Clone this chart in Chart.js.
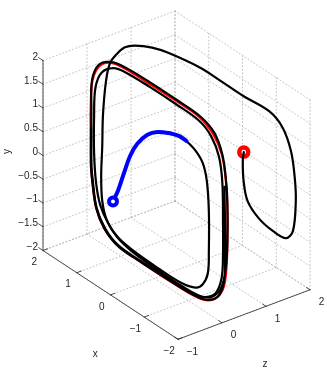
<!DOCTYPE html>
<html>
<head>
<meta charset="utf-8">
<script src="https://cdn.jsdelivr.net/npm/chart.js@4.4.1/dist/chart.umd.min.js"></script>
<style>
  html, body { margin: 0; padding: 0; background: #fff; }
  #wrap { width: 327px; height: 372px; }
</style>
</head>
<body>
<div id="wrap"><canvas id="chart" width="327" height="372"></canvas></div>
<script>
// tick values on the three axes
const xTicks = [2, 1, 0, -1, -2];
const yTicks = [-2, -1.5, -1, -0.5, 0, 0.5, 1, 1.5, 2];
const zTicks = [-1, 0, 1, 2];

// limit cycle (red), points are [x, y, z]
const limitCycle = [
  [2.02, -0.6, 0.1], [2.02, 0.0, 0.1], [2.02, 0.6, 0.1], [1.97, 1.2, 0.1], [1.77, 1.6, 0.1],
  [1.42, 1.84, 0.1], [1.0, 1.91, 0.1], [0.25, 1.93, 0.1], [-0.5, 1.94, 0.1], [-1.2, 1.92, 0.1],
  [-1.62, 1.74, 0.1], [-1.87, 1.43, 0.1], [-1.99, 0.9, 0.1], [-2.03, 0.3, 0.1], [-2.03, -0.3, 0.1],
  [-2.0, -0.9, 0.1], [-1.92, -1.32, 0.1], [-1.72, -1.63, 0.1], [-1.4, -1.84, 0.1], [-1.0, -1.92, 0.1],
  [-0.25, -1.94, 0.1], [0.5, -1.94, 0.1], [1.2, -1.92, 0.1], [1.62, -1.74, 0.1], [1.86, -1.42, 0.1],
  [1.98, -0.86, 0.1], [2.02, -0.6, 0.1]
];

// trajectory starting at the red marker
const trajRed = [
  [-0.69, 0.46, 1.5], [-0.66, 0.26, 1.5], [-0.62, -0.2, 1.55], [-0.67, -0.61, 1.6], [-0.94, -0.87, 1.65],
  [-1.3, -0.99, 1.7], [-1.68, -0.96, 1.7], [-1.82, -0.76, 1.75], [-1.84, -0.14, 1.8], [-1.81, 0.33, 1.8],
  [-1.7, 0.84, 1.8], [-1.52, 1.27, 1.75], [-1.19, 1.48, 1.7], [-0.56, 1.54, 1.6], [0.02, 1.64, 1.5],
  [0.47, 1.73, 1.4], [1.16, 1.79, 1.2], [1.44, 1.82, 1.05], [1.75, 1.77, 0.9], [1.92, 1.69, 0.8],
  [1.89, 1.64, 0.6], [1.84, 1.53, 0.4], [1.76, 1.26, 0.25], [1.72, 0.61, 0.15], [1.68, -0.07, 0.1],
  [1.71, -0.67, 0.1], [1.68, -1.18, 0.1], [1.55, -1.52, 0.1], [1.25, -1.74, 0.1], [0.8, -1.84, 0.1],
  [0.1, -1.87, 0.1], [-0.6, -1.88, 0.1], [-1.2, -1.84, 0.1], [-1.58, -1.68, 0.1], [-1.84, -1.38, 0.1],
  [-1.98, -0.9, 0.1], [-2.03, -0.3, 0.1], [-2.03, 0.5, 0.1], [-1.99, 0.95, 0.1], [-1.88, 1.45, 0.1],
  [-1.64, 1.8, 0.1], [-1.22, 1.95, 0.1], [-0.5, 1.97, 0.1], [0.25, 1.97, 0.1], [1.0, 1.94, 0.1],
  [1.42, 1.86, 0.1], [1.78, 1.63, 0.1], [1.98, 1.22, 0.1], [2.0, 0.6, 0.1], [2.0, 0.0, 0.1],
  [2.0, -0.6, 0.1], [1.96, -0.88, 0.1], [1.85, -1.4, 0.1], [1.6, -1.72, 0.1], [1.2, -1.9, 0.1],
  [0.5, -1.92, 0.1], [-0.25, -1.92, 0.1], [-1.0, -1.9, 0.1], [-1.4, -1.83, 0.1], [-1.75, -1.6, 0.1],
  [-1.93, -1.2, 0.1], [-1.96, -0.6, 0.1], [-1.96, 0.0, 0.1], [-1.94, 0.8, 0.1]
];

// trajectory starting at the blue marker: blue head, then black tail
const blueHead = [
  [1.36, -1.05, 0.1], [1.21, -0.75, 0.1], [1.03, -0.29, 0.1], [0.85, 0.15, 0.1], [0.64, 0.5, 0.1],
  [0.34, 0.83, 0.1], [0.04, 1.03, 0.1], [-0.29, 1.16, 0.1], [-0.59, 1.24, 0.1], [-0.82, 1.24, 0.1]
];
const blueTail = [
  [-0.82, 1.24, 0.1], [-1.09, 1.16, 0.1], [-1.3, 1.0, 0.1], [-1.42, 0.68, 0.1], [-1.48, 0.07, 0.1],
  [-1.48, -0.77, 0.1], [-1.45, -1.25, 0.1], [-1.3, -1.55, 0.1], [-1.09, -1.72, 0.1], [-0.64, -1.82, 0.1],
  [0.0, -1.83, 0.1], [0.7, -1.81, 0.1], [1.2, -1.74, 0.1], [1.5, -1.58, 0.1], [1.74, -1.3, 0.1],
  [1.86, -0.9, 0.1], [1.92, -0.3, 0.1], [1.92, 0.5, 0.1], [1.88, 1.1, 0.1], [1.7, 1.5, 0.1],
  [1.35, 1.76, 0.1], [1.0, 1.84, 0.1], [0.25, 1.87, 0.1], [-0.5, 1.87, 0.1], [-1.2, 1.84, 0.1],
  [-1.55, 1.68, 0.1], [-1.78, 1.36, 0.1], [-1.88, 0.86, 0.1], [-1.9, 0.0, 0.1], [-1.9, -0.6, 0.1],
  [-1.86, -1.15, 0.1], [-1.68, -1.56, 0.1], [-1.35, -1.8, 0.1], [-1.0, -1.9, 0.1], [-0.25, -1.93, 0.1],
  [0.5, -1.94, 0.1], [1.2, -1.92, 0.1], [1.6, -1.75, 0.1], [1.85, -1.43, 0.1], [1.98, -0.88, 0.1],
  [2.01, -0.5, 0.1], [2.01, 0.2, 0.1]
];

// view: where corner (x=2, y=-2, z=-1) lands, and the step for one unit of x, y, z
const VIEW = { ox: 43, oy: 250.5, x: [-33.75, -22.2], y: [0, -47.5], z: [44, -16.5] };
function proj(p) {
  const dx = p[0] - 2, dy = p[1] + 2, dz = p[2] + 1;
  return {
    x: VIEW.ox + dx * VIEW.x[0] + dy * VIEW.y[0] + dz * VIEW.z[0],
    y: VIEW.oy + dx * VIEW.x[1] + dy * VIEW.y[1] + dz * VIEW.z[1]
  };
}
// list of segments -> points with gaps between them
function segs(list) {
  const out = [];
  list.forEach(s => { out.push(proj(s[0]), proj(s[1]), { x: null, y: null }); });
  return out;
}

const gridSegs = [];
zTicks.forEach(z => {
  gridSegs.push([[2, -2, z], [2, 2, z]]);        // wall x=2
  gridSegs.push([[2, -2, z], [-2, -2, z]]);      // floor
});
xTicks.forEach(x => {
  gridSegs.push([[x, -2, 2], [x, 2, 2]]);        // wall z=2
  gridSegs.push([[x, -2, -1], [x, -2, 2]]);      // floor
});
yTicks.forEach(y => {
  gridSegs.push([[2, y, -1], [2, y, 2]]);
  gridSegs.push([[2, y, 2], [-2, y, 2]]);
});

const axisSegs = [
  [[2, -2, -1], [-2, -2, -1]],
  [[-2, -2, -1], [-2, -2, 2]],
  [[2, -2, -1], [2, 2, -1]]
];
xTicks.forEach(x => axisSegs.push([[x, -2, -1], [x, -2, -0.9]]));
zTicks.forEach(z => axisSegs.push([[-2, -2, z], [-1.9, -2, z]]));
yTicks.forEach(y => axisSegs.push([[2, y, -1], [2.13, y, -1]]));

const line = (data, color, width, order, tension) => ({
  data, borderColor: color, borderWidth: width, showLine: true, fill: false,
  pointRadius: 0, tension: tension, order: order,
  borderCapStyle: 'round', borderJoinStyle: 'round'
});

const fmt = v => (v < 0 ? '\u2212' : '') + Math.abs(v);
const FONT = '10px "Liberation Sans", Arial, sans-serif';

const labels3d = {
  id: 'labels3d',
  afterDatasetsDraw(chart) {
    const ctx = chart.ctx, sx = chart.scales.x, sy = chart.scales.y;
    const at = p => { const q = proj(p); return [sx.getPixelForValue(q.x), sy.getPixelForValue(q.y)]; };
    ctx.save();
    ctx.font = FONT;
    ctx.fillStyle = '#262626';
    ctx.textBaseline = 'middle';
    ctx.textAlign = 'right';
    yTicks.forEach(y => { const [a, b] = at([2.15, y, -1]); ctx.fillText(fmt(y), a, b); });
    ctx.textAlign = 'center';
    xTicks.forEach(x => { const [a, b] = at([x, -2.18, -1.2]); ctx.fillText(fmt(x), a, b); });
    ctx.textAlign = 'left';
    zTicks.forEach(z => { const [a, b] = at([-2.26, -2.15, z]); ctx.fillText(fmt(z), a, b); });
    ctx.textAlign = 'center';
    let [a, b] = at([0.45, -3.45, -1]); ctx.fillText('x', a, b);
    [a, b] = at([-2, -3.21, 0.98]); ctx.fillText('z', a, b);
    [a, b] = at([3.06, -0.41, -1]);
    ctx.translate(a, b); ctx.rotate(-Math.PI / 2); ctx.fillText('y', 0, 0);
    ctx.restore();
  }
};

const gridSet = line(segs(gridSegs), '#b4b4b4', 0.8, 9, 0);
gridSet.borderDash = [1, 2.5];
gridSet.spanGaps = false;
const axisSet = line(segs(axisSegs), '#262626', 0.8, 8, 0);
axisSet.spanGaps = false;

new Chart(document.getElementById('chart'), {
  type: 'scatter',
  data: {
    datasets: [
      { data: [proj(blueHead[0])], pointRadius: 4, pointBorderWidth: 4, pointBorderColor: '#0000ff',
        pointBackgroundColor: '#ffffff', order: 1 },
      line(blueHead.map(proj), '#0000ff', 4, 2, 0.35),
      line(blueTail.map(proj), '#000000', 2.2, 3, 0.35),
      line(trajRed.map(proj), '#000000', 2.2, 4, 0.35),
      { data: [proj(trajRed[0])], pointRadius: 4.5, pointBorderWidth: 4.5, pointBorderColor: '#ff0000',
        pointBackgroundColor: '#ffffff', order: 5 },
      line(limitCycle.map(proj), '#ff0000', 2.2, 6, 0.35),
      axisSet,
      gridSet
    ]
  },
  options: {
    responsive: false,
    animation: false,
    layout: { padding: 0, autoPadding: false },
    plugins: { legend: { display: false }, tooltip: { enabled: false } },
    scales: {
      x: { type: 'linear', min: 0, max: 327, display: false },
      y: { type: 'linear', min: 0, max: 372, reverse: true, display: false }
    }
  },
  plugins: [labels3d]
});
</script>
</body>
</html>
